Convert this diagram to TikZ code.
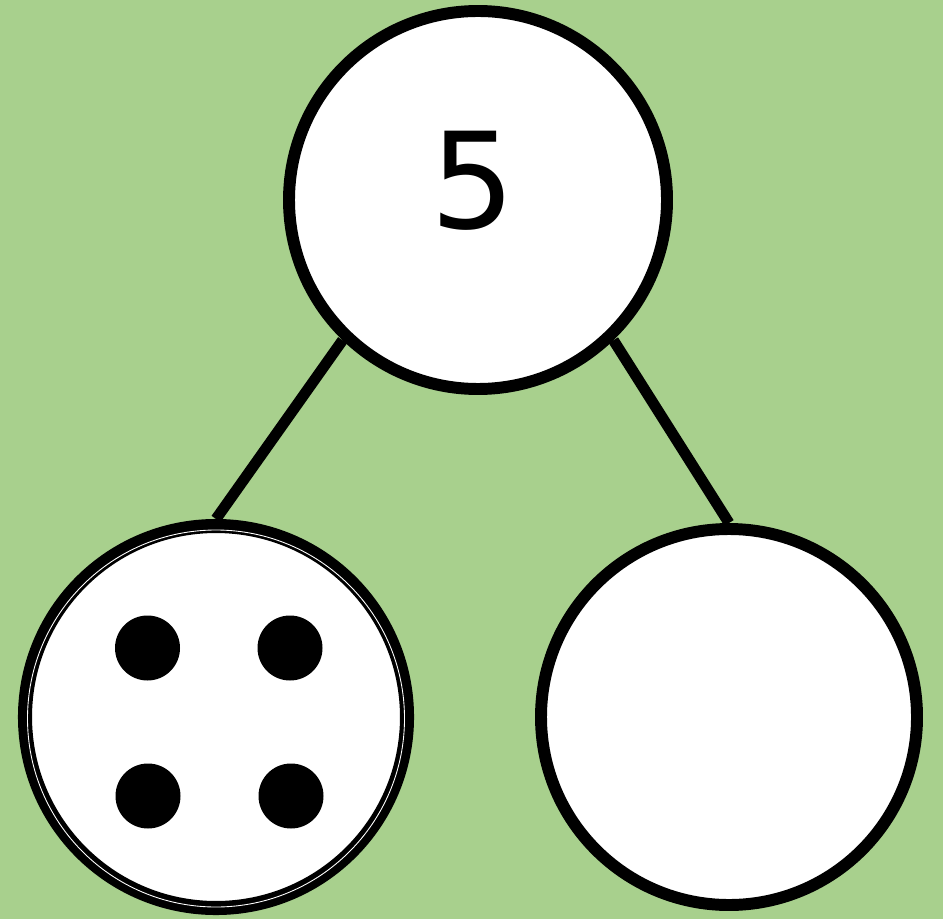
\documentclass[tikz,border=0pt]{standalone}
\usepackage{fontspec}
\setmainfont{DejaVu Sans}
\usetikzlibrary{positioning}
\definecolor{bondgreen}{HTML}{A8D08D}

\begin{document}
\begin{tikzpicture}[x=1cm,y=1cm]
\tikzset{
  partnode/.style={circle,draw=black,fill=white,line width=6.8pt,inner sep=0pt},
  bondedge/.style={draw=black,line width=6.2pt},
  dotmark/.style={circle,fill=black,minimum size=1.3cm,inner sep=0pt}
}
\fill[bondgreen] (0,0) rectangle (18.86,18.38);
\useasboundingbox (0,0) rectangle (18.86,18.38);
\node[partnode,minimum size=7.56cm] (n_whole) at (9.56,14.38) {};
\node[partnode,minimum size=7.64cm,line width=8pt] (n_left) at (4.32,4.04) {};
\draw[white,line width=0.5pt] ([yshift=-0.03cm]n_left.center) circle (3.77cm);
\node[partnode,minimum size=7.52cm] (n_right) at (14.58,4.04) {};
\node[font=\fontsize{76}{80}\selectfont] (n_five) at (9.46,14.76) {5};
\node[dotmark] (n_d0) at (2.95,5.42) {};
\node[dotmark] (n_d1) at (5.8,5.42) {};
\node[dotmark] (n_d2) at (2.96,2.46) {};
\node[dotmark] (n_d3) at (5.82,2.46) {};
\draw[bondedge] (n_whole.226) -- (n_left.north);
\draw[bondedge] (n_whole.314) -- (n_right.north);
\end{tikzpicture}
\end{document}
